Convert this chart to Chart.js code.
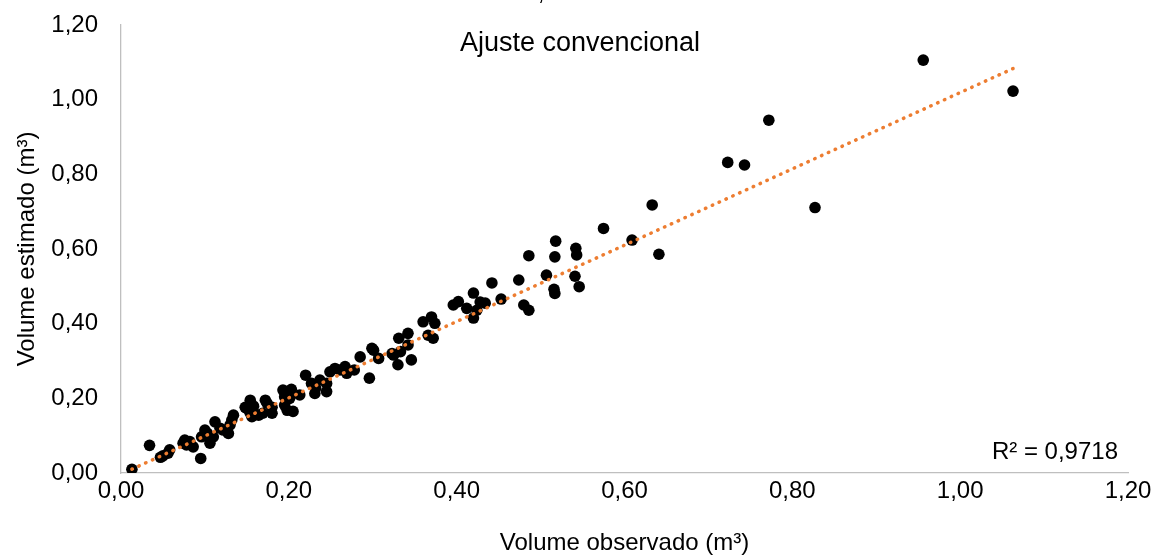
<!DOCTYPE html>
<html>
<head>
<meta charset="utf-8">
<script src="https://cdn.jsdelivr.net/npm/chart.js@4/dist/chart.umd.min.js"></script>
<style>
html,body{margin:0;padding:0;background:#fff;}
#wrap{width:1157px;height:559px;position:relative;}
</style>
</head>
<body>
<div id="wrap"><canvas id="c" width="1157" height="559"></canvas></div>
<script>
const volumeObservado = [
0.013,0.034,0.047,0.050,0.056,0.058,0.074,0.076,0.078,0.082,
0.086,0.095,0.096,0.100,0.103,0.106,0.110,0.112,0.118,0.122,
0.128,0.130,0.132,0.134,0.148,0.150,0.154,0.154,0.156,0.158,
0.164,0.169,0.172,0.174,0.180,0.180,0.193,0.195,0.195,0.198,
0.201,0.203,0.205,0.213,0.220,0.227,0.231,0.232,0.237,0.245,
0.245,0.249,0.255,0.261,0.267,0.269,0.278,0.285,0.296,0.299,
0.301,0.307,0.323,0.325,0.330,0.333,0.331,0.342,0.342,0.346,
0.360,0.366,0.370,0.372,0.374,0.396,0.402,0.412,0.420,0.420,
0.424,0.428,0.434,0.442,0.453,0.474,0.480,0.486,0.486,0.507,
0.516,0.517,0.517,0.518,0.541,0.542,0.543,0.546,0.575,0.609,
0.633,0.641,0.723,0.743,0.772,0.827,0.956,1.063
];
const volumeEstimado = [
0.010,0.074,0.042,0.046,0.053,0.062,0.080,0.088,0.075,0.084,
0.070,0.039,0.097,0.115,0.106,0.080,0.097,0.137,0.120,0.115,
0.106,0.129,0.142,0.155,0.176,0.173,0.160,0.195,0.151,0.179,
0.155,0.160,0.195,0.187,0.176,0.160,0.222,0.204,0.182,0.168,
0.200,0.224,0.165,0.209,0.262,0.240,0.213,0.227,0.249,0.240,
0.218,0.271,0.280,0.276,0.285,0.267,0.276,0.311,0.254,0.334,
0.329,0.307,0.320,0.316,0.290,0.325,0.361,0.374,0.343,0.303,
0.405,0.369,0.418,0.361,0.401,0.450,0.459,0.441,0.482,0.415,
0.436,0.458,0.455,0.509,0.466,0.517,0.450,0.436,0.582,0.530,
0.492,0.481,0.579,0.621,0.527,0.602,0.584,0.499,0.655,0.624,
0.718,0.586,0.832,0.825,0.945,0.711,1.106,1.023
];
const tickValues = [0,0.2,0.4,0.6,0.8,1.0,1.2];
// linear trend line (Excel linear trendline)
const trendSlope = 1.022;
const trendIntercept = -0.003;
const chartTitle = "Ajuste convencional";
const r2Label = "R² = 0,9718";
const xTitle = "Volume observado (m³)";
const yTitle = "Volume estimado (m³)";

const points = volumeObservado.map((x,i)=>({x:x,y:volumeEstimado[i]}));
const xmin=Math.min(...volumeObservado), xmax=Math.max(...volumeObservado);
const trend=[{x:xmin,y:trendIntercept+trendSlope*xmin},{x:xmax,y:trendIntercept+trendSlope*xmax}];

const FONT = "'Liberation Sans', Arial, sans-serif";
const fmt = v => Number(v).toFixed(2).replace('.',',');

const textPlugin = {
  id:'texts',
  afterDraw(chart){
    const ctx=chart.ctx;
    ctx.save();
    ctx.fillStyle='#000';
    ctx.font="27px "+FONT;
    ctx.textAlign='center';
    ctx.textBaseline='middle';
    ctx.fillText(chartTitle,580,44);
    ctx.font="24px "+FONT;
    ctx.textAlign='right';
    ctx.fillText(r2Label,1118,452);
    ctx.textAlign='center';
    ctx.textBaseline='alphabetic';
    ctx.fillText(',',541,0);
    ctx.restore();
  }
};

new Chart(document.getElementById('c'),{
  type:'scatter',
  data:{datasets:[
    {label:'trend',type:'line',data:trend,borderColor:'#ED7D31',borderWidth:3.5,borderDash:[0.5,7],borderCapStyle:'round',pointRadius:0,fill:false,order:0},
    {label:'dados',data:points,backgroundColor:'#000',borderColor:'#000',pointRadius:5.8,pointBorderWidth:0,order:1}
  ]},
  options:{
    responsive:false,animation:false,
    layout:{padding:{top:25,right:29,left:0,bottom:0}},
    plugins:{legend:{display:false},tooltip:{enabled:false}},
    scales:{
      x:{type:'linear',min:0,max:1.2,
        afterBuildTicks:s=>{s.ticks=tickValues.map(v=>({value:v}));},
        afterFit:s=>{s.height=86;s.paddingLeft=0;s.paddingRight=0;},
        grid:{display:false,drawTicks:false},
        border:{display:true,color:'#BFBFBF',width:1.3},
        ticks:{padding:4,color:'#000',font:{family:FONT,size:24},callback:v=>fmt(v),maxRotation:0},
        title:{display:true,text:xTitle,color:'#000',font:{family:FONT,size:24},padding:{top:0,bottom:1}}
      },
      y:{type:'linear',min:0,max:1.2,
        afterBuildTicks:s=>{s.ticks=tickValues.map(v=>({value:v}));},
        afterFit:s=>{s.width=121;s.paddingTop=0;s.paddingBottom=0;},
        grid:{display:false,drawTicks:false},
        border:{display:true,color:'#BFBFBF',width:1.3},
        ticks:{padding:23,color:'#000',font:{family:FONT,size:24},callback:v=>fmt(v)},
        title:{display:true,text:yTitle,color:'#000',font:{family:FONT,size:24},padding:{top:13,bottom:0}}
      }
    }
  },
  plugins:[textPlugin]
});
</script>
</body>
</html>
